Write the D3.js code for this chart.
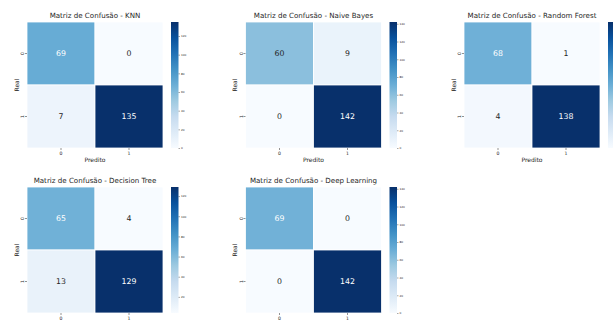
<!DOCTYPE html>
<html><head><meta charset="utf-8">
<script src="https://cdn.jsdelivr.net/npm/d3@7"></script>
<style>html,body{margin:0;padding:0;background:#fff;overflow:hidden}svg{display:block}text{font-family:"DejaVu Sans",sans-serif}</style>
</head><body><svg id="c" width="613" height="322"></svg>
<script>
const modelNames = ["KNN", "Naive Bayes", "Random Forest", "Decision Tree", "Deep Learning"];
const knnValues = [[69, 0], [7, 135]];
const naiveBayesValues = [[60, 9], [0, 142]];
const randomForestValues = [[68, 1], [4, 138]];
const decisionTreeValues = [[65, 4], [13, 129]];
const deepLearningValues = [[69, 0], [0, 142]];
const classLabels = ["0", "1"];
const colorbarStep = 20;
const blues = ["#f7fbff","#deebf7","#c6dbef","#9ecae1","#6baed6","#4292c6","#2171b5","#08519c","#08306b"];

const matrices = [knnValues, naiveBayesValues, randomForestValues, decisionTreeValues, deepLearningValues];
const svg = d3.select("#c");
const SW = 613;
const W = 136, H = 126;

function lum(c){
  const rgb = d3.rgb(c);
  const f = v => { v/=255; return v <= 0.03928 ? v/12.92 : Math.pow((v+0.055)/1.055, 2.4); };
  return 0.2126*f(rgb.r)+0.7152*f(rgb.g)+0.0722*f(rgb.b);
}

matrices.forEach((m, i) => {
  const col = i % 3, row = Math.floor(i / 3);
  const x0 = 27 + col * 218.5, y0 = 22 + row * 165;
  const g = svg.append("g").attr("transform", `translate(${x0},${y0})`);
  const flat = m.flat();
  const vmin = d3.min(flat), vmax = d3.max(flat);
  const t = d3.scaleLinear().domain([vmin, vmax]).range([0, 1]);
  const cmap = d3.scaleLinear().domain(d3.range(9).map(k => k/8)).range(blues).interpolate(d3.interpolateRgb);
  const color = v => cmap(t(v));
  const x = d3.scaleBand().domain(classLabels).range([0, W]);
  const y = d3.scaleBand().domain(classLabels).range([0, H]);
  const cells = [];
  m.forEach((r, ri) => r.forEach((v, ci) => cells.push({r: classLabels[ri], c: classLabels[ci], v})));
  g.selectAll("rect.cell").data(cells).join("rect")
    .attr("x", d => x(d.c)).attr("y", d => y(d.r))
    .attr("width", x.bandwidth()).attr("height", y.bandwidth())
    .attr("fill", d => color(d.v)).attr("stroke", "#fff").attr("stroke-width", 0.8);
  g.selectAll("text.ann").data(cells).join("text")
    .attr("x", d => x(d.c) + x.bandwidth()/2).attr("y", d => y(d.r) + y.bandwidth()/2)
    .attr("text-anchor", "middle").attr("dominant-baseline", "central")
    .attr("font-size", 7.8)
    .attr("fill", d => lum(color(d.v)) < 0.408 ? "#fff" : "#262626")
    .text(d => d.v);
  // x axis
  const xa = g.append("g").attr("transform", `translate(0,${H})`);
  classLabels.forEach(c => {
    const cx = x(c) + x.bandwidth()/2;
    xa.append("line").attr("x1", cx).attr("x2", cx).attr("y1", 0).attr("y2", 2).attr("stroke", "#262626").attr("stroke-width", 0.5);
    xa.append("text").attr("x", cx).attr("y", 5.5).attr("text-anchor", "middle").attr("dominant-baseline", "central").attr("font-size", 4.6).attr("fill", "#262626").text(c);
  });
  g.append("text").attr("x", W/2).attr("y", H + 11.5).attr("text-anchor", "middle").attr("dominant-baseline", "central").attr("font-size", 6).attr("fill", "#262626").text("Predito");
  // y axis
  classLabels.forEach(c => {
    const cy = y(c) + y.bandwidth()/2;
    g.append("line").attr("x1", -2).attr("x2", 0).attr("y1", cy).attr("y2", cy).attr("stroke", "#262626").attr("stroke-width", 0.5);
    g.append("text").attr("transform", `translate(-4.2,${cy}) rotate(-90)`).attr("text-anchor", "middle").attr("dominant-baseline", "central").attr("font-size", 4.6).attr("fill", "#262626").text(c);
  });
  g.append("text").attr("transform", `translate(-11,${H/2}) rotate(-90)`).attr("text-anchor", "middle").attr("dominant-baseline", "central").attr("font-size", 6).attr("fill", "#262626").text("Real");
  // title
  g.append("text").attr("x", W/2).attr("y", -4).attr("text-anchor", "middle").attr("font-size", 7.1).attr("fill", "#262626").text("Matriz de Confusão - " + modelNames[i]);
  // colorbar
  const cbx = W + 8, cbw = 7.5;
  const cy = d3.scaleLinear().domain([vmin, vmax]).range([H, 0]);
  const gid = "grad" + i;
  const grad = svg.append("defs").append("linearGradient").attr("id", gid).attr("x1", 0).attr("y1", 1).attr("x2", 0).attr("y2", 0);
  blues.forEach((b, k) => grad.append("stop").attr("offset", k/8).attr("stop-color", b));
  g.append("rect").attr("x", cbx).attr("y", 0).attr("width", cbw).attr("height", H).attr("fill", `url(#${gid})`);
  // colorbar ticks only when they fall inside the visible figure (the reference crops the last one)
  if (x0 + cbx + cbw + 8 <= SW) {
    const ticks = d3.range(Math.ceil(vmin/colorbarStep)*colorbarStep, vmax + 0.001, colorbarStep);
    const cba = g.append("g").attr("transform", `translate(${cbx + cbw},0)`)
      .call(d3.axisRight(cy).tickValues(ticks).tickSize(1.5).tickPadding(1).tickFormat(d3.format("d")));
    cba.select(".domain").remove();
    cba.selectAll("line").attr("stroke", "#262626").attr("stroke-width", 0.4);
    cba.selectAll("text").attr("font-size", 2.8).attr("fill", "#262626").attr("font-family", "DejaVu Sans");
  }
});
</script></body></html>
